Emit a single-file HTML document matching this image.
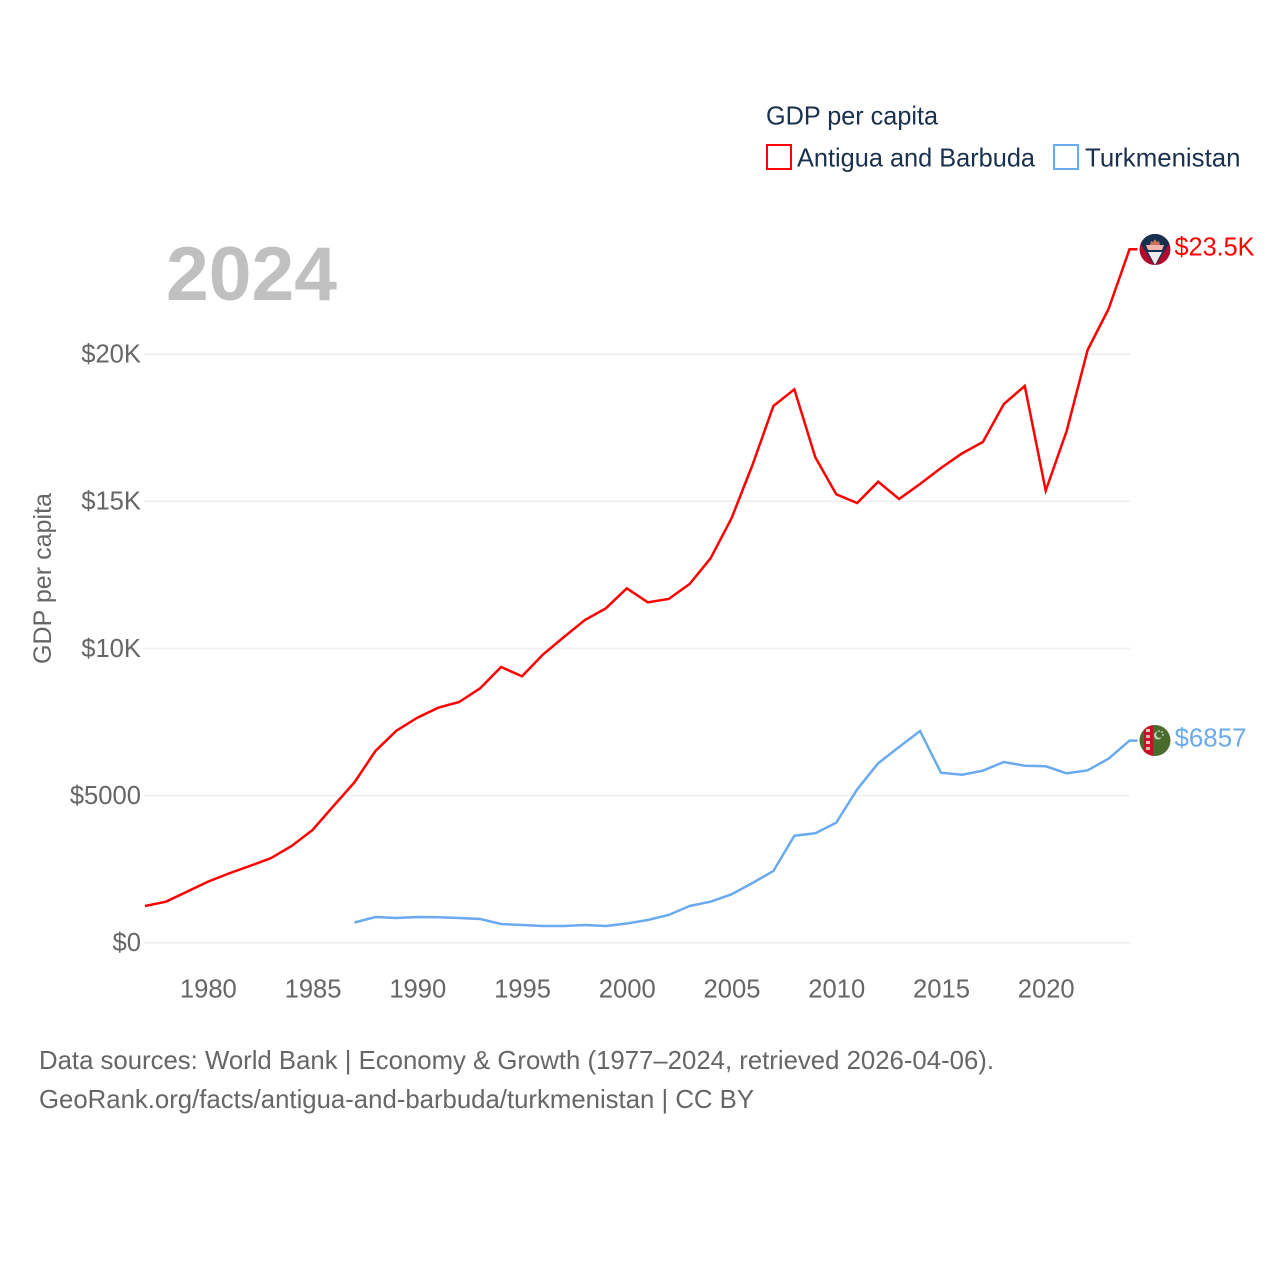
<!DOCTYPE html>
<html lang="en">
<head>
<meta charset="utf-8">
<title>GDP per capita: Antigua and Barbuda vs Turkmenistan</title>
<style>
html,body{margin:0;padding:0;background:#fff;}
svg{display:block;font-family:"Liberation Sans",sans-serif;}
</style>
</head>
<body>
<svg id="chart" xmlns="http://www.w3.org/2000/svg" width="1280" height="1280" viewBox="0 0 1280 1280">
  <defs>
    <clipPath id="flag-clip-a"><circle cx="1155" cy="249.5" r="15.5"/></clipPath>
    <clipPath id="flag-clip-b"><circle cx="1155" cy="740.5" r="15.5"/></clipPath>
  </defs>
  <rect x="0" y="0" width="1280" height="1280" fill="#ffffff"/>
  <g id="grid"></g>
  <g id="y-ticks"></g>
  <g id="x-ticks"></g>
  <text x="166" y="300" font-size="76" font-weight="700" fill="#c0c0c0" textLength="171" lengthAdjust="spacingAndGlyphs">2024</text>
  <text transform="translate(51,578.5) rotate(-90)" text-anchor="middle" font-size="25" fill="#666666" textLength="171" lengthAdjust="spacingAndGlyphs">GDP per capita</text>
  <g id="series"></g>

  <g clip-path="url(#flag-clip-a)">
    <rect x="1139" y="234" width="32" height="32" fill="#b00b2e"/>
    <polygon points="1139,234 1171,234 1171,241 1155,266 1139,241" fill="#16304f"/>
    <polygon points="1150,245 1151,241 1153,242 1155,239 1157,242 1159,241 1160,245" fill="#c9745a"/>
    <polygon points="1146,245 1164,245 1162,250 1148,250" fill="#f3b4ad"/>
    <polygon points="1148,252 1162,252 1155,265" fill="#eeeeee"/>
  </g>
  <g clip-path="url(#flag-clip-b)">
    <rect x="1139" y="725" width="32" height="32" fill="#4a6b2c"/>
    <rect x="1144" y="725" width="9" height="32" fill="#c8102e"/>
    <rect x="1146" y="729" width="4" height="3" fill="#e6c8b0"/>
    <rect x="1146" y="735" width="4" height="3" fill="#d8b8a0"/>
    <rect x="1146" y="741" width="4" height="3" fill="#e6c8b0"/>
    <rect x="1146" y="747" width="4" height="3" fill="#d8b8a0"/>
    <circle cx="1158" cy="735.5" r="4" fill="#c4cfb6"/>
    <circle cx="1159.5" cy="734.5" r="3.3" fill="#4a6b2c"/>
    <circle cx="1159" cy="731" r="0.9" fill="#d5dccb"/>
    <circle cx="1162" cy="732" r="0.9" fill="#d5dccb"/>
    <circle cx="1163" cy="735" r="0.9" fill="#d5dccb"/>
  </g>

  <text x="1174.5" y="255.5" font-size="26" fill="#ff0000" textLength="80" lengthAdjust="spacingAndGlyphs">$23.5K</text>
  <text x="1174.5" y="746.5" font-size="26" fill="#6aaaee" textLength="72" lengthAdjust="spacingAndGlyphs">$6857</text>

  <text x="766" y="124.5" font-size="26" fill="#19304f" textLength="172" lengthAdjust="spacingAndGlyphs">GDP per capita</text>
  <g>
    <rect x="767" y="145" width="24" height="24" fill="#ffffff" stroke="#ff0000" stroke-width="2"/>
    <text x="797" y="166.5" font-size="26" fill="#19304f" textLength="238" lengthAdjust="spacingAndGlyphs">Antigua and Barbuda</text>
  </g>
  <g>
    <rect x="1054" y="145" width="24" height="24" fill="#ffffff" stroke="#6aaaee" stroke-width="2"/>
    <text x="1085" y="166.5" font-size="26" fill="#19304f" textLength="155.5" lengthAdjust="spacingAndGlyphs">Turkmenistan</text>
  </g>

  <text x="39" y="1069" font-size="26" fill="#666666" textLength="955" lengthAdjust="spacingAndGlyphs">Data sources: World Bank | Economy &amp; Growth (1977–2024, retrieved 2026-04-06).</text>
  <text x="39" y="1108" font-size="26" fill="#666666" textLength="715" lengthAdjust="spacingAndGlyphs">GeoRank.org/facts/antigua-and-barbuda/turkmenistan | CC BY</text>
</svg>
<script>
var antiguaYears = [1977,1978,1979,1980,1981,1982,1983,1984,1985,1986,1987,1988,1989,1990,1991,1992,1993,1994,1995,1996,1997,1998,1999,2000,2001,2002,2003,2004,2005,2006,2007,2008,2009,2010,2011,2012,2013,2014,2015,2016,2017,2018,2019,2020,2021,2022,2023,2024];
var antiguaValues = [1247,1394,1733,2073,2352,2607,2869,3287,3831,4647,5452,6516,7206,7648,7988,8182,8647,9371,9055,9796,10391,10969,11366,12046,11570,11683,12192,13066,14426,16237,18243,18810,16499,15241,14946,15670,15082,15592,16135,16628,17019,18311,18922,15364,17393,20146,21540,23569];
var turkmenistanYears = [1987,1988,1989,1990,1991,1992,1993,1994,1995,1996,1997,1998,1999,2000,2001,2002,2003,2004,2005,2006,2007,2008,2009,2010,2011,2012,2013,2014,2015,2016,2017,2018,2019,2020,2021,2022,2023,2024];
var turkmenistanValues = [687,874,840,874,863,840,806,636,602,568,568,602,568,653,772,942,1247,1394,1645,2029,2437,3637,3719,4079,5214,6098,6652,7196,5778,5710,5846,6142,6016,5996,5758,5860,6254,6870];
var yTickValues = [0,5000,10000,15000,20000];
var yTickLabels = ["$0","$5000","$10K","$15K","$20K"];
var xTickValues = [1980,1985,1990,1995,2000,2005,2010,2015,2020];

function xScale(year) { return 145 + (year - 1977) * (1129.5 - 145) / 47; }
function yScale(value) { return 942.7 - value * 588.4 / 20000; }

var NS = 'http://www.w3.org/2000/svg';
function make(tag, attrs, parent) {
  var el = document.createElementNS(NS, tag);
  for (var k in attrs) { el.setAttribute(k, attrs[k]); }
  document.getElementById(parent).appendChild(el);
  return el;
}

yTickValues.forEach(function (v, i) {
  var line = make('line', {x1: 144, x2: 1130, y1: yScale(v), y2: yScale(v), stroke: '#eeeeee', 'stroke-width': 1.5}, 'grid');
  
  
  var label = make('text', {x: 141, y: yScale(v) + 8.3, 'text-anchor': 'end', 'font-size': 25.6, fill: '#666666'}, 'y-ticks');
  label.textContent = yTickLabels[i];
  
  
});

xTickValues.forEach(function (y) {
  var label = make('text', {x: xScale(y) + 0.5, y: 997.5, 'text-anchor': 'middle', 'font-size': 25.6, fill: '#666666'}, 'x-ticks');
  label.textContent = String(y);
  
  
});

function linePoints(years, values) {
  var pts = years.map(function (y, i) { return xScale(y).toFixed(2) + ',' + yScale(values[i]).toFixed(2); });
  var last = years.length - 1;
  pts.push((xScale(years[last]) + 8).toFixed(2) + ',' + yScale(values[last]).toFixed(2));
  return pts.join(' ');
}

var antiguaLine = make('polyline', {points: linePoints(antiguaYears, antiguaValues), fill: 'none', stroke: '#ff0000', 'stroke-width': 2.5, 'stroke-linejoin': 'miter'}, 'series');



var turkmenistanLine = make('polyline', {points: linePoints(turkmenistanYears, turkmenistanValues), fill: 'none', stroke: '#6aaaee', 'stroke-width': 2.5, 'stroke-linejoin': 'miter'}, 'series');


</script>
</body>
</html>
